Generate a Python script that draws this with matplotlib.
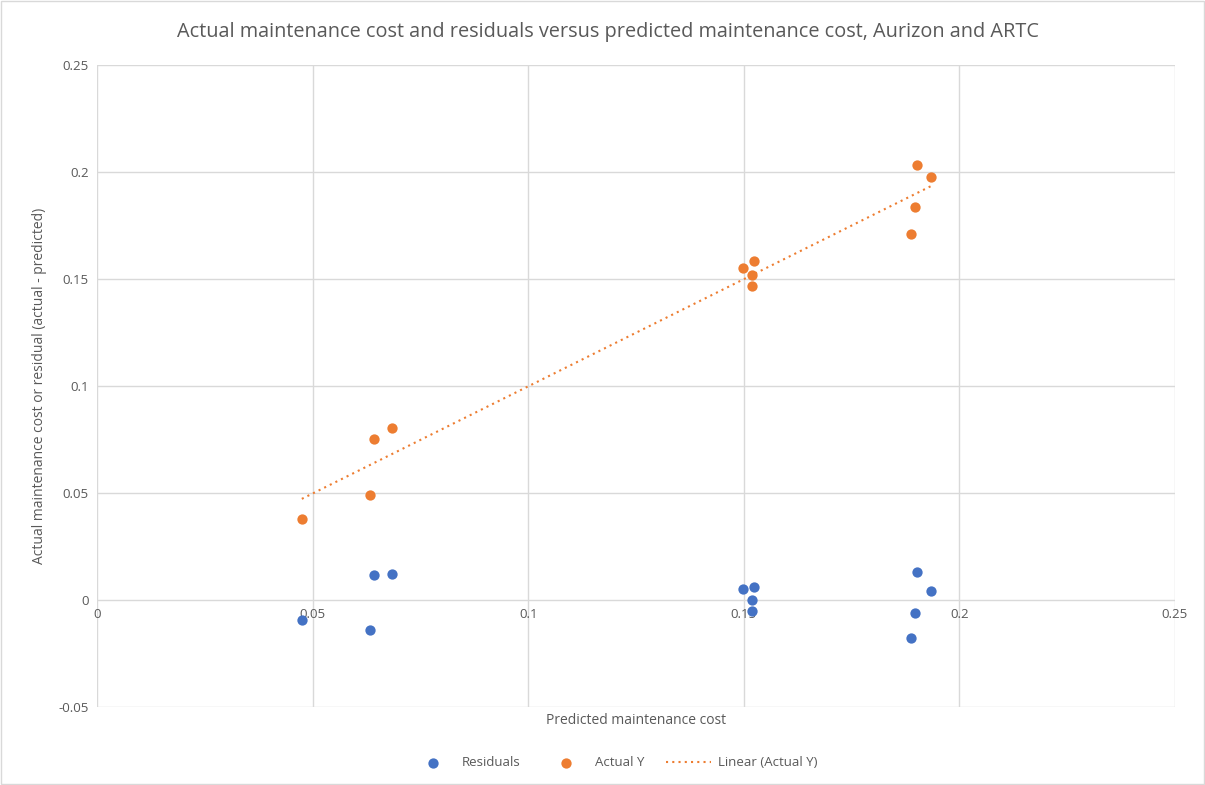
import numpy as np
import matplotlib
matplotlib.use("Agg")
import matplotlib.pyplot as plt
from matplotlib.patches import Rectangle

# values
predicted = [0.0475, 0.0633, 0.0642, 0.0684, 0.1498, 0.1524, 0.1519, 0.1519,
             0.1902, 0.1934, 0.1897, 0.1888]
actual_y = [0.0379, 0.0491, 0.0752, 0.0804, 0.1551, 0.1584, 0.1519, 0.1467,
            0.2033, 0.1977, 0.1836, 0.1710]
residuals = [-0.0093, -0.0140, 0.0117, 0.0121, 0.0051, 0.0061, 0.0000, -0.0051,
             0.0131, 0.0042, -0.0061, -0.0178]

blue = "#4472C4"
orange = "#ED7D31"
grey_txt = "#595959"

plt.rcParams['font.family'] = ['Open Sans', 'DejaVu Sans']

fig = plt.figure(figsize=(12.05, 7.85), dpi=100)
W, H = 1205, 785
ax = fig.add_axes([97 / W, 1 - 707 / H, (1175 - 97) / W, (707 - 65) / H])

ax.scatter(predicted, residuals, s=55, color=blue, label="Residuals", zorder=3, linewidths=0)
ax.scatter(predicted, actual_y, s=55, color=orange, label="Actual Y", zorder=3, linewidths=0)

# linear trendline through actual values
k, b = np.polyfit(predicted, actual_y, 1)
xs = np.array([min(predicted), max(predicted)])
ax.plot(xs, k * xs + b, color=orange, linestyle=(0, (1, 2)), linewidth=1.5,
        label="Linear (Actual Y)", zorder=2)

ax.set_xlim(0, 0.25)
ax.set_ylim(-0.05, 0.25)
ax.set_xticks([0, 0.05, 0.1, 0.15, 0.2, 0.25])
ax.set_xticklabels(["0", "0.05", "0.1", "0.15", "0.2", "0.25"])
ax.set_yticks([-0.05, 0, 0.05, 0.1, 0.15, 0.2, 0.25])
ax.set_yticklabels(["-0.05", "0", "0.05", "0.1", "0.15", "0.2", "0.25"])
ax.grid(True, color="#d9d9d9", linewidth=1)
ax.set_axisbelow(True)
for s in ax.spines.values():
    s.set_visible(False)
ax.spines['bottom'].set_position(('data', 0))
ax.tick_params(length=0, labelsize=9.5, colors=grey_txt, pad=6)

fig.text(608 / W, 1 - 32 / H,
         "Actual maintenance cost and residuals versus predicted maintenance cost, Aurizon and ARTC",
         ha="center", va="center", fontsize=14.3, color=grey_txt)
fig.text(636 / W, 1 - 720 / H, "Predicted maintenance cost", ha="center", va="center",
         fontsize=10, color=grey_txt)
fig.text(40 / W, 1 - 386 / H, "Actual maintenance cost or residual (actual - predicted)",
         ha="center", va="center", rotation=90, fontsize=10, color=grey_txt)

leg = fig.legend(loc="center", bbox_to_anchor=(614 / W, 1 - 763 / H), ncol=3, frameon=False,
                 fontsize=9.5, columnspacing=1.7, handlelength=3.4, handletextpad=0.5)
for t in leg.get_texts():
    t.set_color(grey_txt)

fig.patches.append(Rectangle((0.001, 0.001), 0.998, 0.998, transform=fig.transFigure,
                             fill=False, edgecolor="#d9d9d9", linewidth=1))

fig.savefig("out.png", dpi=100)
